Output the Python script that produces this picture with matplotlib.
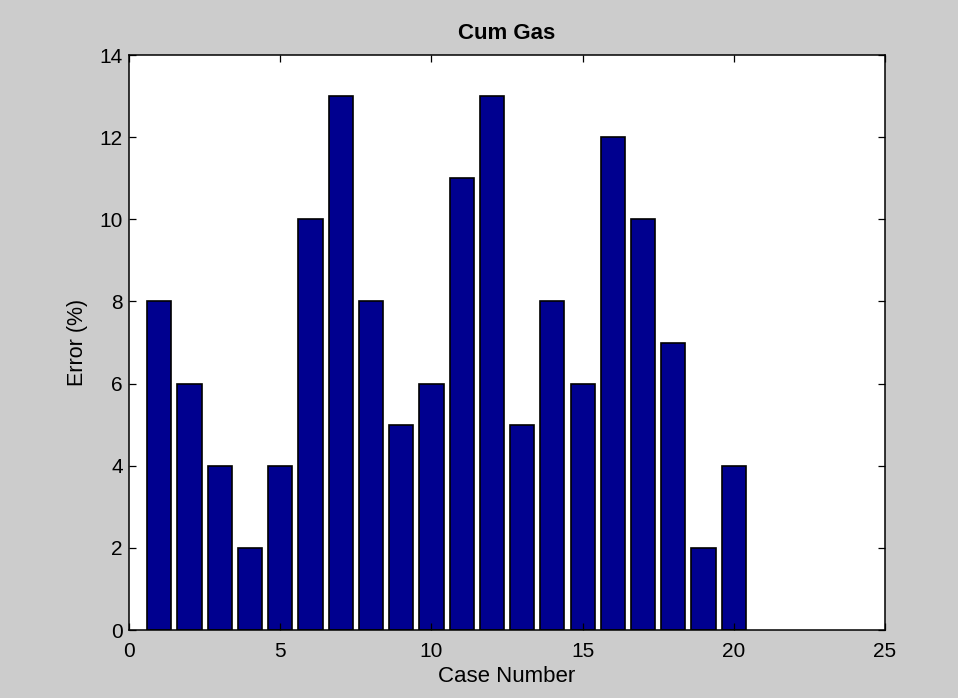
import matplotlib
matplotlib.use("Agg")
import matplotlib.pyplot as plt

# Datos: error por caso
cases = list(range(1, 21))
error_pct = [8, 6, 4, 2, 4, 10, 13, 8, 5, 6, 11, 13, 5, 8, 6, 12, 10, 7, 2, 4]
xticks = [0, 5, 10, 15, 20, 25]
yticks = [0, 2, 4, 6, 8, 10, 12, 14]

plt.rcParams['font.family'] = ['Liberation Sans', 'DejaVu Sans']
plt.rcParams['font.size'] = 15

fig = plt.figure(figsize=(9.58, 6.98), dpi=100, facecolor='#cccccc')
# posicion de los ejes (estilo matlab)
ax = fig.add_axes([0.1347, 0.0974, 0.7891, 0.8238])

ax.bar(cases, error_pct, width=0.8, color='#00008f', edgecolor='black', linewidth=1.2)

ax.set_xlim(0, 25)
ax.set_ylim(0, 14)
ax.set_xticks(xticks)
ax.set_yticks(yticks)
ax.tick_params(direction='in', top=True, right=True, length=5, width=0.9)
ax.tick_params(axis='x', pad=8.5)
ax.tick_params(axis='y', pad=4.4)
for s in ax.spines.values():
    s.set_linewidth(1.1)

ax.set_title("Cum Gas", fontweight='bold', fontsize=16, pad=11.5)
ax.set_xlabel("Case Number", fontsize=16, labelpad=3.5)
ax.set_ylabel("Error (%)", fontsize=15.5, labelpad=8.5)

fig.savefig("out.png", dpi=100, facecolor=fig.get_facecolor())
